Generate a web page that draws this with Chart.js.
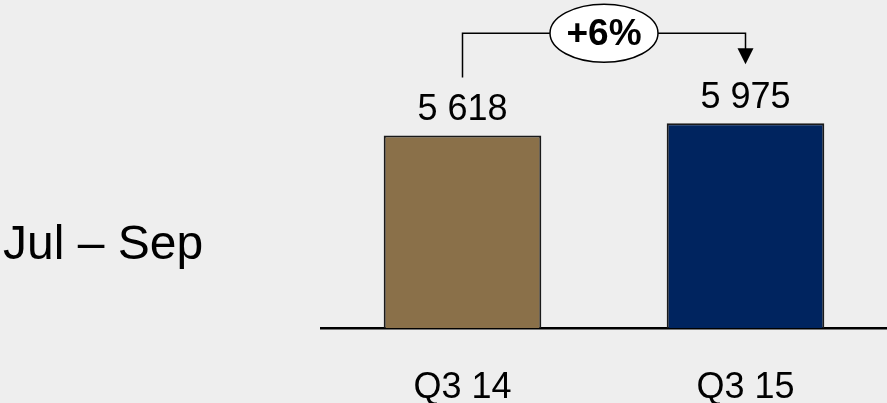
<!DOCTYPE html>
<html>
<head>
<meta charset="utf-8">
<script src="https://cdn.jsdelivr.net/npm/chart.js@4"></script>
<style>
html,body{margin:0;padding:0;background:#eeeeee;}
#wrap{width:887px;height:403px;position:relative;}
</style>
</head>
<body>
<div id="wrap"><canvas id="c"></canvas></div>
<script>
const categories = ["Q3 14", "Q3 15"];
const values = [5618, 5975];
const valueLabels = ["5 618", "5 975"];
const barColors = ["#8A7049", "#00245F"];
const periodLabel = "Jul – Sep";
const changeLabel = "+6%";

const FONT = "'Liberation Sans', Arial, Helvetica, sans-serif";

const annotPlugin = {
  id: 'annot',
  afterDatasetsDraw(chart) {
    const ctx = chart.ctx;
    const meta = chart.getDatasetMeta(0);
    const b1 = meta.data[0], b2 = meta.data[1];
    ctx.save();
    // value labels
    ctx.fillStyle = '#000';
    ctx.font = "36px " + FONT;
    ctx.textAlign = 'center';
    ctx.textBaseline = 'alphabetic';
    meta.data.forEach((bar, i) => {
      ctx.fillText(valueLabels[i], bar.x, bar.y - 15);
    });
    // period label
    ctx.textAlign = 'left';
    ctx.font = "48px " + FONT;
    ctx.fillText(periodLabel, 3, 259);
    // bracket
    const topY = Math.min(b1.y, b2.y) - 90;
    ctx.strokeStyle = '#000';
    ctx.lineWidth = 1.5;
    ctx.beginPath();
    ctx.moveTo(b1.x, b1.y - 58);
    ctx.lineTo(b1.x, topY);
    ctx.lineTo(b2.x, topY);
    ctx.lineTo(b2.x, b2.y - 72);
    ctx.stroke();
    // arrow head
    ctx.fillStyle = '#000';
    ctx.beginPath();
    ctx.moveTo(b2.x - 8, b2.y - 75);
    ctx.lineTo(b2.x + 8, b2.y - 75);
    ctx.lineTo(b2.x, b2.y - 59);
    ctx.closePath();
    ctx.fill();
    // ellipse
    const cx = (b1.x + b2.x) / 2;
    ctx.beginPath();
    ctx.ellipse(cx, topY, 54, 29, 0, 0, Math.PI * 2);
    ctx.fillStyle = '#ffffff';
    ctx.fill();
    ctx.lineWidth = 1.5;
    ctx.stroke();
    ctx.fillStyle = '#000';
    ctx.font = "bold 37px " + FONT;
    ctx.textAlign = 'center';
    ctx.textBaseline = 'alphabetic';
    ctx.fillText(changeLabel, cx, topY + 12);
    ctx.restore();
  }
};

new Chart(document.getElementById('c'), {
  type: 'bar',
  data: {
    labels: categories,
    datasets: [{
      data: values,
      backgroundColor: barColors,
      borderColor: '#1a1a1a',
      borderWidth: 2,
      borderSkipped: 'bottom',
      categoryPercentage: 1.0,
      barPercentage: 0.557
    }]
  },
  options: {
    responsive: true,
    maintainAspectRatio: false,
    animation: false,
    devicePixelRatio: 1,
    layout: { padding: { left: 321, right: 0, top: 0, bottom: 0 } },
    plugins: { legend: { display: false }, tooltip: { enabled: false } },
    scales: {
      x: {
        grid: { display: false, drawTicks: false },
        border: { display: true, color: '#000', width: 2.5 },
        ticks: {
          color: '#000',
          padding: 38,
          font: { family: FONT, size: 36 }
        },
        afterFit(scale) { scale.height = 75; }
      },
      y: {
        display: false,
        min: 0,
        max: 9570
      }
    }
  },
  plugins: [annotPlugin]
});
</script>
</body>
</html>
